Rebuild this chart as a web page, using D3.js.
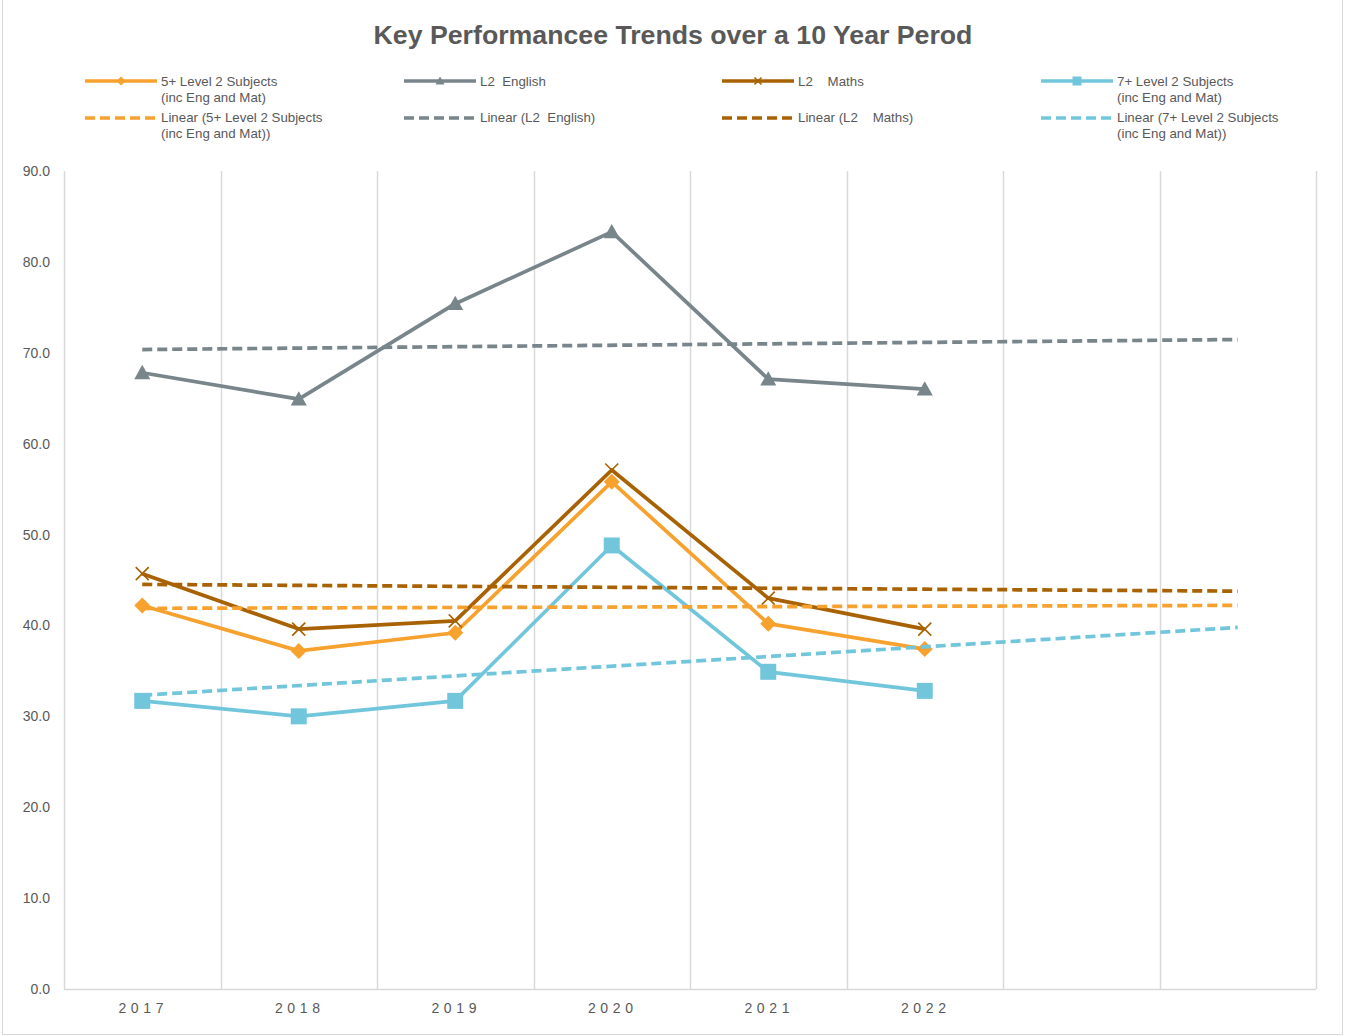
<!DOCTYPE html>
<html>
<head>
<meta charset="utf-8">
<script src="https://cdn.jsdelivr.net/npm/d3@7"></script>
<style>
  body { margin: 0; background: #fff; }
  text { font-family: "Liberation Sans", Arial, sans-serif; fill: #595959; white-space: pre; }
</style>
</head>
<body>
<div id="chart"></div>
<script>
// Data
const years = ["2017", "2018", "2019", "2020", "2021", "2022"];
const emptySlots = 2; // axis keeps two blank categories for the forecast
const fivePlus = [42.2, 37.2, 39.2, 55.8, 40.2, 37.4];
const english = [67.8, 64.9, 75.4, 83.3, 67.1, 66.0];
const maths = [45.7, 39.6, 40.5, 57.1, 43.0, 39.6];
const sevenPlus = [31.7, 30.0, 31.7, 48.8, 34.9, 32.8];
const yTicks = [0, 10, 20, 30, 40, 50, 60, 70, 80, 90];

const seriesList = [
    { name: ["5+ Level 2 Subjects", "(inc Eng and Mat)"], trendName: ["Linear (5+ Level 2 Subjects", "(inc Eng and Mat))"], values: fivePlus, color: '#F7A12E', marker: 'diamond' },
    { name: ["L2  English"], trendName: ["Linear (L2  English)"], values: english, color: '#78858B', marker: 'triangle' },
    { name: ["L2    Maths"], trendName: ["Linear (L2    Maths)"], values: maths, color: '#A86203', marker: 'x' },
    { name: ["7+ Level 2 Subjects", "(inc Eng and Mat)"], trendName: ["Linear (7+ Level 2 Subjects", "(inc Eng and Mat))"], values: sevenPlus, color: '#72C6DC', marker: 'square' }
];

const width = 1345, height = 1036;
const plot = { left: 64, right: 1316, top: 171, bottom: 989 };
const nCats = years.length + emptySlots;

const svg = d3.select('#chart').append('svg')
    .attr('width', width)
    .attr('height', height);

// Outer chart border
svg.append('path')
    .attr('d', `M2.5,0 V1034.5 H1342.5 V0`)
    .attr('fill', 'none')
    .attr('stroke', '#d9d9d9')
    .attr('stroke-width', 1);

// Title
svg.append('text')
    .attr('x', 673)
    .attr('y', 44)
    .attr('text-anchor', 'middle')
    .style('font-size', '26.7px')
    .style('font-weight', 'bold')
    .text('Key Performancee Trends over a 10 Year Perod');

// Scales
const x = d3.scaleLinear().domain([0, nCats]).range([plot.left, plot.right]);
const y = d3.scaleLinear().domain([0, 90]).range([plot.bottom, plot.top]);
const xMid = i => x(i + 0.5);

// Vertical gridlines at category boundaries
svg.append('g')
    .selectAll('line')
    .data(d3.range(0, nCats + 1))
    .join('line')
    .attr('x1', d => Math.round(x(d)) + 0.5)
    .attr('x2', d => Math.round(x(d)) + 0.5)
    .attr('y1', plot.top)
    .attr('y2', plot.bottom)
    .attr('stroke', '#d9d9d9')
    .attr('stroke-width', 1.5);

// Bottom axis line
svg.append('line')
    .attr('x1', plot.left)
    .attr('x2', plot.right)
    .attr('y1', plot.bottom + 0.5)
    .attr('y2', plot.bottom + 0.5)
    .attr('stroke', '#d9d9d9')
    .attr('stroke-width', 1.5);

// Y axis labels
const yAxis = d3.axisLeft(y)
    .tickValues(yTicks)
    .tickSize(0)
    .tickPadding(14)
    .tickFormat(d3.format('.1f'));
svg.append('g')
    .attr('transform', `translate(${plot.left},0)`)
    .call(yAxis)
    .call(g => g.select('.domain').remove())
    .selectAll('text')
    .style('font-size', '14px')
    .style('font-family', '"Liberation Sans", Arial, sans-serif')
    .attr('fill', '#595959');

// X axis labels
const xAxis = d3.axisBottom(x)
    .tickValues(years.map((_, i) => i + 0.5))
    .tickSize(0)
    .tickPadding(14)
    .tickFormat((d, i) => years[i]);
svg.append('g')
    .attr('transform', `translate(0,${plot.bottom})`)
    .call(xAxis)
    .call(g => g.select('.domain').remove())
    .selectAll('text')
    .style('font-size', '14px')
    .style('letter-spacing', '4.6px')
    .style('font-family', '"Liberation Sans", Arial, sans-serif')
    .attr('dx', '0.5px')
    .attr('fill', '#595959');

// Least squares trend over the data points, extended over the empty slots
function trend(values) {
    const xs = values.map((_, i) => i);
    const mx = d3.mean(xs), my = d3.mean(values);
    const sxy = d3.sum(xs, (xi, i) => (xi - mx) * (values[i] - my));
    const sxx = d3.sum(xs, xi => (xi - mx) * (xi - mx));
    const slope = sxy / sxx;
    const b = my - slope * mx;
    return [[0, b], [nCats - 1, b + slope * (nCats - 1)]];
}

function drawMarker(g, type, color, size) {
    const h = size / 2;
    if (type === 'diamond') {
        g.append('path').attr('d', `M0,${-h} L${h},0 L0,${h} L${-h},0 Z`).attr('fill', color);
    } else if (type === 'triangle') {
        g.append('path').attr('d', `M0,${-h} L${h},${h * 0.8} L${-h},${h * 0.8} Z`).attr('fill', color);
    } else if (type === 'square') {
        g.append('rect').attr('x', -h).attr('y', -h).attr('width', size).attr('height', size).attr('fill', color);
    } else if (type === 'x') {
        g.append('path').attr('d', `M${-h},${-h} L${h},${h} M${h},${-h} L${-h},${h}`)
            .attr('stroke', color).attr('stroke-width', 1.6).attr('fill', 'none');
    }
}

const line = d3.line().x(d => xMid(d[0])).y(d => y(d[1]));

// Series lines and markers
seriesList.forEach(s => {
    const pts = s.values.map((v, i) => [i, v]);
    svg.append('path')
        .datum(pts)
        .attr('d', line)
        .attr('fill', 'none')
        .attr('stroke', s.color)
        .attr('stroke-width', 3.7)
        .attr('stroke-linejoin', 'round');
    pts.forEach(p => {
        const g = svg.append('g').attr('transform', `translate(${xMid(p[0])},${y(p[1])})`);
        drawMarker(g, s.marker, s.color, s.marker === 'x' ? 13 : 16);
    });
});

// Trend lines
seriesList.forEach(s => {
    svg.append('path')
        .datum(trend(s.values))
        .attr('d', line)
        .attr('fill', 'none')
        .attr('stroke', s.color)
        .attr('stroke-width', 3.7)
        .attr('stroke-dasharray', '10,5');
});

// Legend
const legendCols = [85, 404, 722, 1041];
seriesList.forEach((s, i) => {
    const lx = legendCols[i];
    // solid entry
    svg.append('line')
        .attr('x1', lx).attr('x2', lx + 72)
        .attr('y1', 81).attr('y2', 81)
        .attr('stroke', s.color).attr('stroke-width', 3.7);
    const mg = svg.append('g').attr('transform', `translate(${lx + 36},81)`);
    drawMarker(mg, s.marker, s.color, s.marker === 'x' ? 7 : 9);
    s.name.forEach((t, j) => {
        svg.append('text')
            .attr('x', lx + 76).attr('y', 86 + j * 16)
            .style('font-size', '13.3px')
            .text(t);
    });
    // trend entry
    svg.append('line')
        .attr('x1', lx).attr('x2', lx + 72)
        .attr('y1', 118).attr('y2', 118)
        .attr('stroke', s.color).attr('stroke-width', 3.7)
        .attr('stroke-dasharray', '10,5');
    s.trendName.forEach((t, j) => {
        svg.append('text')
            .attr('x', lx + 76).attr('y', 122 + j * 16)
            .style('font-size', '13.3px')
            .text(t);
    });
});
</script>
</body>
</html>
